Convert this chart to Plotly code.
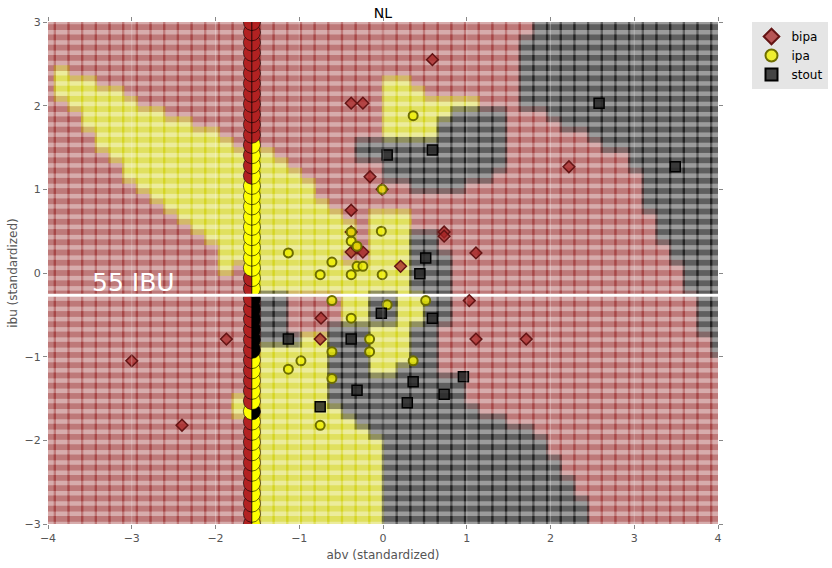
import numpy as np
import plotly.graph_objects as go

# ---------------- data ----------------
classes = ["bipa", "ipa", "stout"]
class_codes = {"B": "bipa", "I": "ipa", "S": "stout"}

# decision-grid extents (50 x 50 mesh)
grid_x_range = (-4.0, 4.0)
grid_y_range = (-3.0, 3.0)
grid_n = 50

# predicted class of each grid cell, one row per y value, top (y=3) to bottom (y=-3)
# run-length coded: letter + count, summing to 50 columns
region_rows = [
    "B36 S14", "B36 S14", "B35 S15", "B35 S15", "B35 S15",
    "B1 I1 B33 S15",
    "B1 I3 B21 I2 B8 S15",
    "B1 I5 B19 I3 B7 S15",
    "B2 I5 B18 I7 B3 S15",
    "B3 I6 B16 I5 S4 B3 S13",
    "B3 I8 B14 I4 S5 B4 S12",
    "B4 I9 B12 I4 S5 B6 S10",
    "B4 I10 B9 S11 B7 S9",
    "B5 I12 B6 S11 B9 S7",
    "B6 I12 B7 S9 B9 S7",
    "B6 I13 B6 S8 B11 S6",
    "B7 I13 B7 S4 B13 S6",
    "B8 I12 B24 S6",
    "B9 I12 B23 S6",
    "B10 I12 B2 I3 B18 S5",
    "B11 I12 B1 I3 B18 S5",
    "B12 I11 B1 I3 S2 B16 S5",
    "B13 I10 B1 I3 S2 B17 S4",
    "B13 I9 B2 I3 S3 B16 S4",
    "B13 I1 B1 I12 S3 B17 S3",
    "B15 I12 S3 B17 S3",
    "B15 I12 S3 B17 S3",
    "B16 S2 B4 I2 S2 I2 S2 B18 S2",
    "B16 S2 B4 I2 S2 I2 S2 B18 S2",
    "B16 S2 B4 I2 S2 I2 S2 B18 S2",
    "B16 S2 B3 S3 I3 S2 B19 S2",
    "B16 S3 I2 S3 I3 S2 B20 S1",
    "B16 I5 S3 I3 S2 B20 S1",
    "B16 I5 S3 I3 S2 B21",
    "B16 I5 S3 I2 S3 B21",
    "B16 I5 S10 B19",
    "B16 I5 S10 B19",
    "B14 I1 B1 I5 S10 B19",
    "B14 I1 B1 I6 S10 B18",
    "B16 I7 S11 B16",
    "B16 I8 S12 B14",
    "B16 I9 S12 B13",
    "B16 I9 S12 B13",
    "B16 I9 S13 B12",
    "B16 I9 S13 B12",
    "B16 I9 S14 B11",
    "B16 I9 S14 B11",
    "B16 I9 S15 B10",
    "B16 I9 S15 B10",
    "B16 I9 S15 B10",
]

# vertical probe column of split circles (left half / right half class), top to bottom
probe_abv = -1.565
probe_left = "B" * 16 + "I" * 9 + "B" * 13 + "I" + "B" * 11
probe_right = "B" * 12 + "I" * 15 + "S" * 6 + "I" * 5 + "S" + "I" * 11

# observed beers
bipa_abv = [0.59, -0.38, -0.24, -0.155, -0.01, 2.22, -0.38, -0.38, 0.73, 0.73, 1.11,
            -0.38, -0.31, -0.24, 0.21, 1.03, -0.74, -1.87, -0.75, 1.11, 1.71, -3.0, -2.4]
bipa_ibu = [2.55, 2.03, 2.03, 1.15, 1.0, 1.27, 0.75, 0.49, 0.49, 0.44, 0.24,
            0.25, 0.30, 0.25, 0.08, -0.33, -0.54, -0.79, -0.79, -0.79, -0.79, -1.05, -1.82]

ipa_abv = [0.36, -0.01, -0.02, -1.13, -0.38, -0.38, -0.31, -0.61, -0.75, -0.38, -0.31,
           -0.24, -0.01, -0.61, 0.05, 0.51, -0.38, -0.16, -0.16, -0.61, -0.98, -1.13,
           0.36, -0.61, -0.75]
ipa_ibu = [1.88, 1.0, 0.5, 0.24, 0.49, 0.38, 0.32, 0.13, -0.02, -0.02, 0.08,
           0.08, -0.02, -0.33, -0.38, -0.33, -0.54, -0.79, -0.94, -0.94, -1.05, -1.15,
           -1.05, -1.26, -1.82]

stout_abv = [2.58, 0.05, 0.59, 3.49, 0.51, 0.44, -0.02, 0.59, -1.13, -0.38, -0.75,
             -0.31, 0.36, 0.96, 0.73, 0.29]
stout_ibu = [2.03, 1.41, 1.47, 1.27, 0.18, -0.01, -0.48, -0.54, -0.79, -0.79, -1.6,
             -1.4, -1.3, -1.24, -1.45, -1.55]

ibu_cut = -0.265
ibu_cut_label = "55 IBU"

x_ticks = [-4, -3, -2, -1, 0, 1, 2, 3, 4]
y_ticks = [-3, -2, -1, 0, 1, 2, 3]

# ---------------- styles ----------------
mesh_color = {"bipa": "rgb(152,40,40)", "ipa": "rgb(205,205,0)", "stout": "rgb(0,0,0)"}
probe_color = {"bipa": "rgb(178,34,34)", "ipa": "rgb(255,255,0)", "stout": "rgb(0,0,0)"}
FONT = "DejaVu Sans"

# ---------------- build ----------------
gx = np.linspace(grid_x_range[0], grid_x_range[1], grid_n)
gy = np.linspace(grid_y_range[1], grid_y_range[0], grid_n)  # top to bottom


def decode(row):
    out = ""
    for tok in row.split():
        out += tok[0] * int(tok[1:])
    return out


cells = {c: ([], []) for c in classes}
for r, row in enumerate(region_rows):
    s = decode(row)
    for c_i, ch in enumerate(s):
        cl = class_codes[ch]
        cells[cl][0].append(gx[c_i])
        cells[cl][1].append(gy[r])

fig = go.Figure()

for cl in classes:
    fig.add_trace(go.Scatter(
        x=cells[cl][0], y=cells[cl][1], mode="markers",
        marker=dict(symbol="square", size=16, color=mesh_color[cl], opacity=0.39,
                    line=dict(width=0)),
        hoverinfo="skip", showlegend=False))

# split circles, drawn bottom to top so upper circles overlap lower ones
R = 0.102
for r in range(grid_n - 1, -1, -1):
    yc = gy[r]
    for side, codes in (("left", probe_left), ("right", probe_right)):
        if side == "left":
            ang = np.linspace(np.pi / 2, 3 * np.pi / 2, 25)
        else:
            ang = np.linspace(-np.pi / 2, np.pi / 2, 25)
        px = list(probe_abv + R * np.cos(ang)) + [probe_abv + R * np.cos(ang[0])]
        py = list(yc + R * np.sin(ang)) + [yc + R * np.sin(ang[0])]
        fig.add_trace(go.Scatter(
            x=px, y=py, mode="lines", fill="toself",
            fillcolor=probe_color[class_codes[codes[r]]],
            line=dict(color="rgb(0,0,0)", width=0.6),
            hoverinfo="skip", showlegend=False))

# faint vertical grid lines over the mesh
for xv in x_ticks[1:-1]:
    fig.add_shape(type="line", xref="x", yref="paper", x0=xv, x1=xv, y0=0, y1=1,
                  line=dict(color="rgba(255,255,255,0.28)", width=1), layer="above")

# cut line
fig.add_trace(go.Scatter(x=[x_ticks[0], x_ticks[-1]], y=[ibu_cut, ibu_cut], mode="lines",
                         line=dict(color="white", width=3), hoverinfo="skip", showlegend=False))

fig.add_trace(go.Scatter(
    x=bipa_abv, y=bipa_ibu, mode="markers", name="bipa",
    marker=dict(symbol="diamond", size=9, color="rgba(165,35,35,0.75)",
                line=dict(color="rgb(100,20,20)", width=1.5))))
fig.add_trace(go.Scatter(
    x=ipa_abv, y=ipa_ibu, mode="markers", name="ipa",
    marker=dict(symbol="circle", size=9, color="rgba(240,240,0,0.8)",
                line=dict(color="rgb(110,110,0)", width=2))))
fig.add_trace(go.Scatter(
    x=stout_abv, y=stout_ibu, mode="markers", name="stout",
    marker=dict(symbol="square", size=10, color="rgba(40,40,40,0.85)",
                line=dict(color="rgb(0,0,0)", width=1.5))))

fig.add_annotation(x=-3.5, y=ibu_cut + 0.15, xref="x", yref="y", text=ibu_cut_label,
                   showarrow=False, xanchor="left", yanchor="middle",
                   font=dict(family=FONT, size=25, color="white"))

axis_common = dict(showgrid=False, zeroline=False, showline=False, ticks="outside",
                   ticklen=4, tickcolor="#888888", mirror="ticks",
                   tickfont=dict(family=FONT, size=11, color="#555555"))

fig.update_layout(
    width=832, height=568,
    margin=dict(l=48, r=114, t=22, b=44, autoexpand=False),
    paper_bgcolor="white", plot_bgcolor="white",
    title=dict(text="NL", x=0.5, xref="paper", y=1 - 13 / 568, yanchor="middle",
               font=dict(family=FONT, size=14, color="#000000")),
    xaxis=dict(range=[x_ticks[0], x_ticks[-1]], tickvals=x_ticks,
               ticktext=[str(v).replace("-", "\u2212") for v in x_ticks],
               title=dict(text="abv (standardized)", standoff=6,
                          font=dict(family=FONT, size=12, color="#555555")),
               automargin=False, **axis_common),
    yaxis=dict(range=[y_ticks[0], y_ticks[-1]], tickvals=y_ticks,
               ticktext=[str(v).replace("-", "\u2212") for v in y_ticks],
               title=dict(text="ibu (standardized)", standoff=4,
                          font=dict(family=FONT, size=12, color="#555555")),
               automargin=False, **axis_common),
    legend=dict(x=1.05, y=1.0, xanchor="left", yanchor="top", bgcolor="#E5E5E5",
                font=dict(family=FONT, size=12, color="#000000"),
                tracegroupgap=0, itemsizing="constant"),
    showlegend=True,
)

fig.write_html("out.html")
